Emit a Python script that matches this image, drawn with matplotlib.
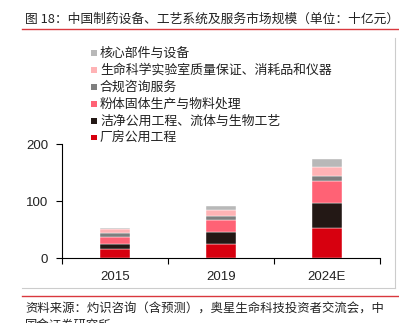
import matplotlib
matplotlib.use("Agg")
import matplotlib.pyplot as plt
from matplotlib.patches import Rectangle
from matplotlib.lines import Line2D
import numpy as np

plt.rcParams['font.family'] = ['Noto Sans CJK SC', 'DejaVu Sans']

categories = ["2015", "2019", "2024E"]
series_names = ["厂房公用工程", "洁净公用工程、流体与生物工艺", "粉体固体生产与物料处理",
                "合规咨询服务", "生命科学实验室质量保证、消耗品和仪器", "核心部件与设备"]
values = {
    "厂房公用工程": [16.4, 25.7, 53.2],
    "洁净公用工程、流体与生物工艺": [8.7, 19.9, 43.3],
    "粉体固体生产与物料处理": [12.9, 22.2, 38.5],
    "合规咨询服务": [6.4, 7.1, 9.4],
    "生命科学实验室质量保证、消耗品和仪器": [6.5, 10.5, 15.8],
    "核心部件与设备": [1.7, 5.8, 14.1],
}
colors = ["#D7000F", "#231815", "#FF6275", "#7F7F7F", "#FFB3B5", "#B8B8B8"]
yticks = [0, 100, 200]

W, H = 399, 323
fig = plt.figure(figsize=(W / 100, H / 100), dpi=100)

def fx(px):
    return px / W

def fy(py):
    return 1 - py / H

ax = fig.add_axes([fx(62), fy(258.3), fx(380) - fx(62), fy(144.3) - fy(258.3)])
x = np.arange(len(categories))
bottom = np.zeros(len(categories))
for name, c in zip(series_names, colors):
    v = np.array(values[name])
    ax.bar(x, v, width=0.275, bottom=bottom, color=c, edgecolor='white', linewidth=0.3)
    bottom += v

ax.set_xlim(-0.5, 2.5)
ax.set_ylim(0, 200)
ax.set_yticks(yticks)
ax.set_xticks(x)
ax.set_xticklabels(categories)
ax.set_xticks([-0.5, 0.5, 1.5, 2.5], minor=True)
ax.tick_params(axis='x', which='major', length=0, pad=9)
ax.tick_params(axis='x', which='minor', length=4, direction='out', width=0.8)
ax.tick_params(axis='y', length=4, direction='out', width=0.8, pad=6)
for lab in ax.get_xticklabels() + ax.get_yticklabels():
    lab.set_fontfamily('Liberation Sans')
    lab.set_fontsize(9.5)
    lab.set_color('#222222')
for s in ['top', 'right']:
    ax.spines[s].set_visible(False)
for s in ['left', 'bottom']:
    ax.spines[s].set_linewidth(0.8)
    ax.spines[s].set_color('black')

# legend (manual, reversed order)
for i, (name, c) in enumerate(zip(series_names[::-1], colors[::-1])):
    yc = 53.3 + 16.9 * i
    fig.patches.append(Rectangle((fx(91), fy(yc + 2.6)), fx(5.5), fy(0) - fy(5.5),
                                 transform=fig.transFigure, facecolor=c, edgecolor='none'))
    fig.text(fx(100), fy(yc), name, fontsize=9.3, va='center', ha='left', color='#222222')

# title
fig.text(fx(25), fy(19), "图 18：中国制药设备、工艺系统及服务市场规模（单位：十亿元）",
         fontsize=9.2, va='center', ha='left', color='#222222')
fig.add_artist(Line2D([fx(22), fx(399)], [fy(29), fy(29)], color='#D9383E', linewidth=1.0))
# frame lines
fig.add_artist(Line2D([fx(395), fx(395)], [fy(38), fy(287.5)], color='#CCCCCC', linewidth=0.8))
fig.add_artist(Line2D([fx(22), fx(395)], [fy(287.5), fy(287.5)], color='#CCCCCC', linewidth=0.8))
fig.add_artist(Line2D([fx(22), fx(399)], [fy(295.5), fy(295.5)], color='#D9383E', linewidth=1.0))
# source
fig.text(fx(25), fy(309), "资料来源：灼识咨询（含预测），奥星生命科技投资者交流会，中",
         fontsize=8.9, va='center', ha='left', color='#222222')
fig.text(fx(25), fy(319), "国金证券研究所", fontsize=8.9, va='top', ha='left', color='#222222')

fig.savefig("out.png", dpi=100)
